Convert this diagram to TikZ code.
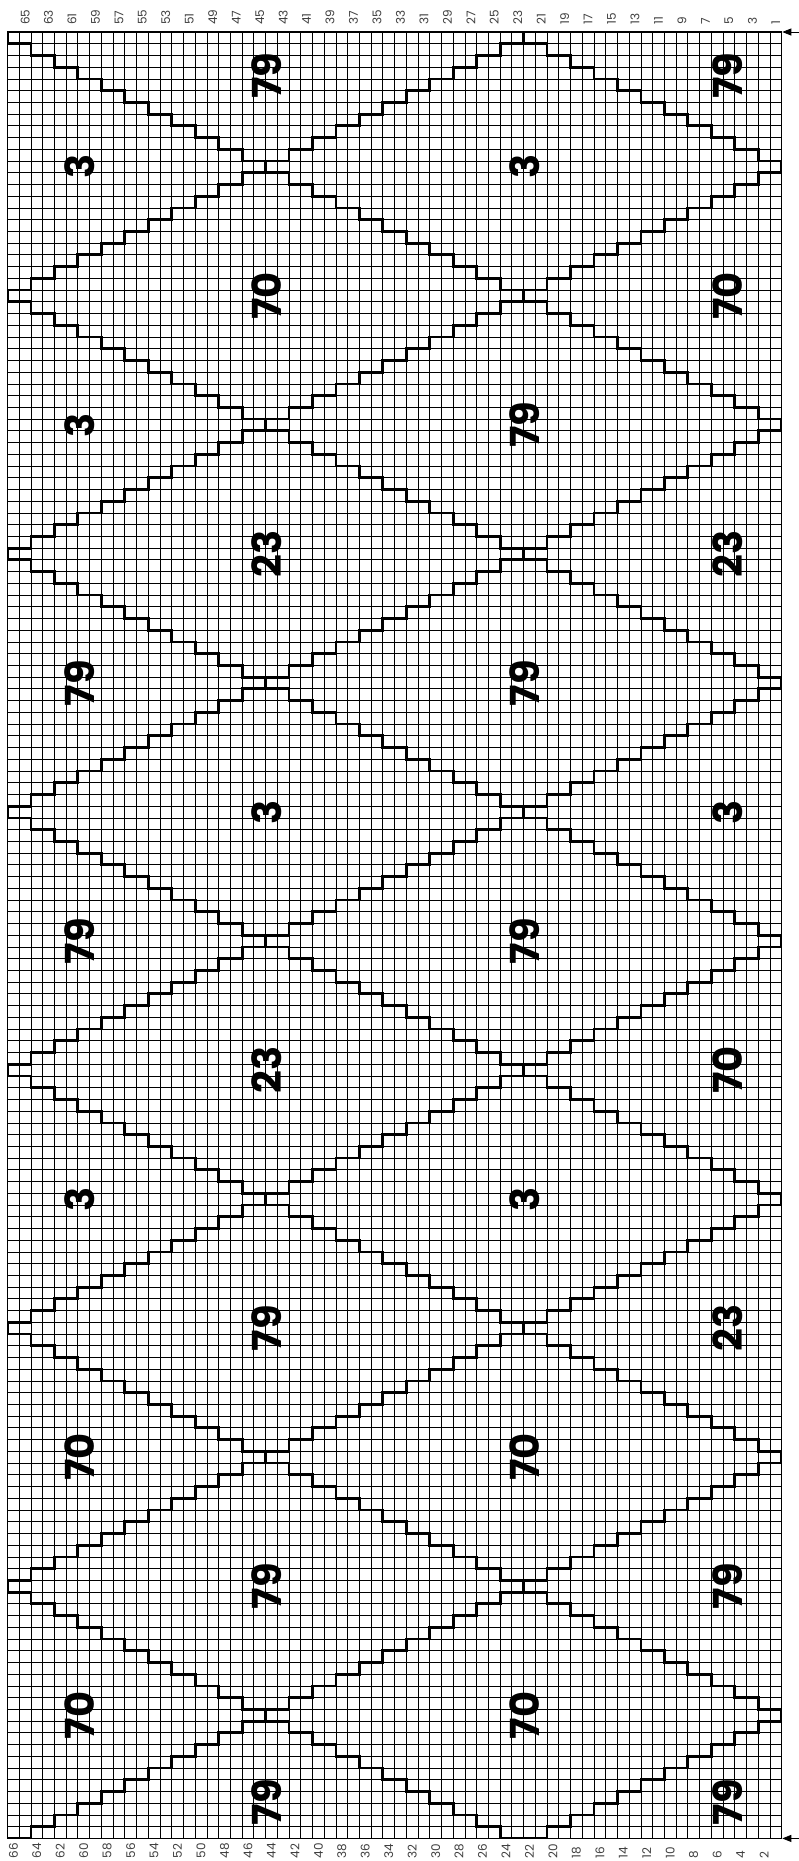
\documentclass[tikz,border=0pt]{standalone}
\usepackage{fontspec}
\setmainfont{Poppins}
\usetikzlibrary{arrows.meta}
\begin{document}
\begin{tikzpicture}[x=1pt,y=-1pt,
  gridline/.style={line width=0.8pt,black},
  stair/.style={line width=2.8pt,black,line cap=rect,line join=miter},
  border/.style={line width=1.3pt,black},
  biglbl/.style={rotate=90,font=\fontsize{40}{40}\selectfont\bfseries,inner sep=0pt},
  axlbl/.style={rotate=90,anchor=west,font=\fontsize{12}{12}\selectfont,inner sep=0pt,text=black!75},
  tick arrow/.style={-{Triangle[length=9pt,width=7pt]},line width=0.8pt}]
\fill[white] (0,0) rectangle (798,1861);
\useasboundingbox (0,0) rectangle (798,1861);
\begin{scope}[shift={(7.5,32)},x=11.73pt,y=-11.73pt]
  % grid
  \foreach \c in {0,...,66} \draw[gridline] (\c,0) -- (\c,154);
  \foreach \r in {0,...,154} \draw[gridline] (0,\r) -- (66,\r);
  % stair diamonds
  \begin{scope}
    \clip (0,0) rectangle (66,154);
    \foreach \i in {-1,...,4}{
      \foreach \j in {-1,...,14}{
        \pgfmathtruncatemacro{\parity}{mod(\i+\j+20,2)}
        \ifnum\parity=0
          \pgfmathtruncatemacro{\C}{22*\i}
          \pgfmathtruncatemacro{\R}{11*\j}
          \draw[stair] (\C-2,\R) -- (\C+2,\R) (\C-2,\R+1) -- (\C+2,\R+1) (\C,\R) -- (\C,\R+1);
          \draw[stair] (\C+2,\R+1) \foreach \k in {1,...,9}{ -- ++(0,1) -- ++(2,0)} -- ++(0,1);
          \draw[stair] (\C-2,\R+1) \foreach \k in {1,...,9}{ -- ++(0,1) -- ++(-2,0)} -- ++(0,1);
        \fi
      }
    }
  \end{scope}
  \draw[border] (0,0) rectangle (66,154);
  % big labels
  \foreach \r/\t [count=\q] in {11.5/3,33.5/3,55.5/79,77.5/79,99.5/3,121.5/70,143.5/70}
    \node[biglbl] (la\q) at (6.18,\r) {\t};
  \foreach \r/\t [count=\q] in {3.75/79,22.5/70,44.5/23,66.5/3,88.5/23,110.5/79,132.5/79,150.9/79}
    \node[biglbl] (lb\q) at (22.12,\r) {\t};
  \foreach \r/\t [count=\q] in {11.5/3,33.5/79,55.5/79,77.5/79,99.5/3,121.5/70,143.5/70}
    \node[biglbl] (lc\q) at (44.12,\r) {\t};
  \foreach \r/\t [count=\q] in {3.75/79,22.5/70,44.5/23,66.5/3,88.5/70,110.5/23,132.5/79,150.9/79}
    \node[biglbl] (ld\q) at (61.42,\r) {\t};
  % axis numbers
  \foreach \n in {1,3,...,65} \node[axlbl] (t\n) at (66.5-\n,-0.6) {\n};
  \foreach \n in {2,4,...,66} \node[axlbl] (b\n) at (66.5-\n,155.7) {\n};
  % row arrows
  \coordinate (ta) at (67.45,0);
  \coordinate (tb) at (66.05,0);
  \coordinate (ba) at (67.45,154);
  \coordinate (bb) at (66.05,154);
  \draw[tick arrow] (ta) -- (tb);
  \draw[tick arrow] (ba) -- (bb);
\end{scope}
\end{tikzpicture}
\end{document}
